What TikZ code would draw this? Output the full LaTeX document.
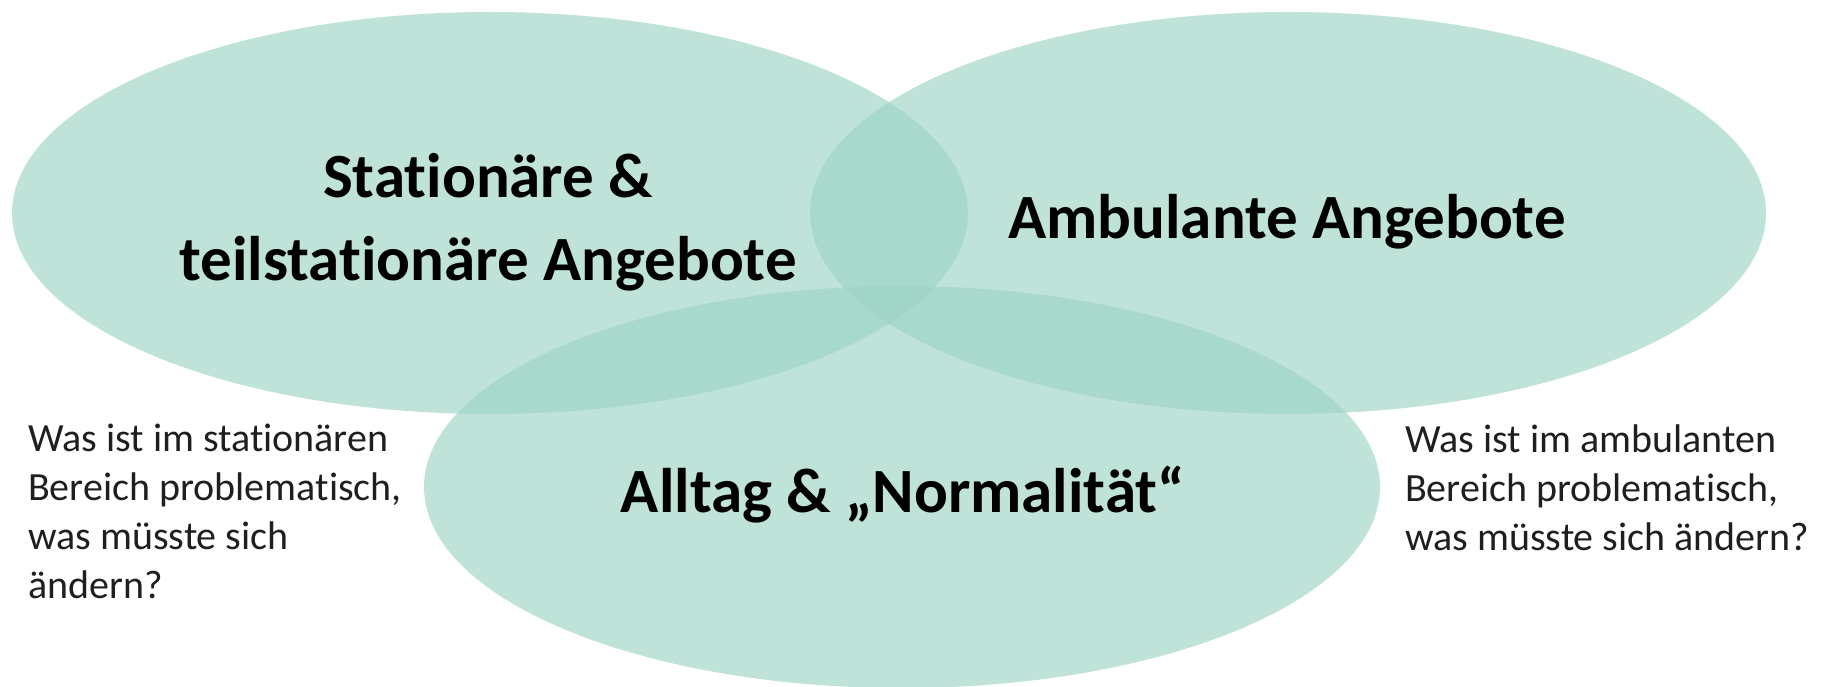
\documentclass[tikz,border=0pt]{standalone}
\usepackage{fontspec}
\setmainfont{Carlito}[Ligatures=NoCommon]
\usetikzlibrary{shapes.geometric}
\definecolor{venngreen}{HTML}{9DD4C5}

\begin{document}
\begin{tikzpicture}[x=1pt,y=-1pt,every node/.style={inner sep=0pt},
  blob/.style={ellipse,fill=venngreen,fill opacity=0.65,minimum width=956pt,minimum height=402pt},
  head/.style={font=\bfseries\fontsize{63}{83}\selectfont,align=center,text=black},
  note/.style={font=\fontsize{40}{49}\selectfont,align=left,anchor=north west,text=black!88}]
  \useasboundingbox (0,0) rectangle (1823,687);

  \node[blob] (stat) at (490,213) {};
  \node[blob] (amb) at (1288,213) {};
  \node[blob] (all) at (902,487) {};

  \node[head] (statTxt) at (488,222) {Stationäre \&\\teilstationäre Angebote};
  \node[head,anchor=base] (ambTxt) at (1287,238) {Ambulante Angebote};
  \node[head,anchor=base] (allTxt) at (903,512) {Alltag \& „Normalität“};

  \node[note] (statQ) at (28,424) {Was ist im stationären\\Bereich problematisch,\\was müsste sich\\ändern?};
  \node[note] (ambQ) at (1405,425) {Was ist im ambulanten\\Bereich problematisch,\\was müsste sich ändern?};
\end{tikzpicture}
\end{document}
